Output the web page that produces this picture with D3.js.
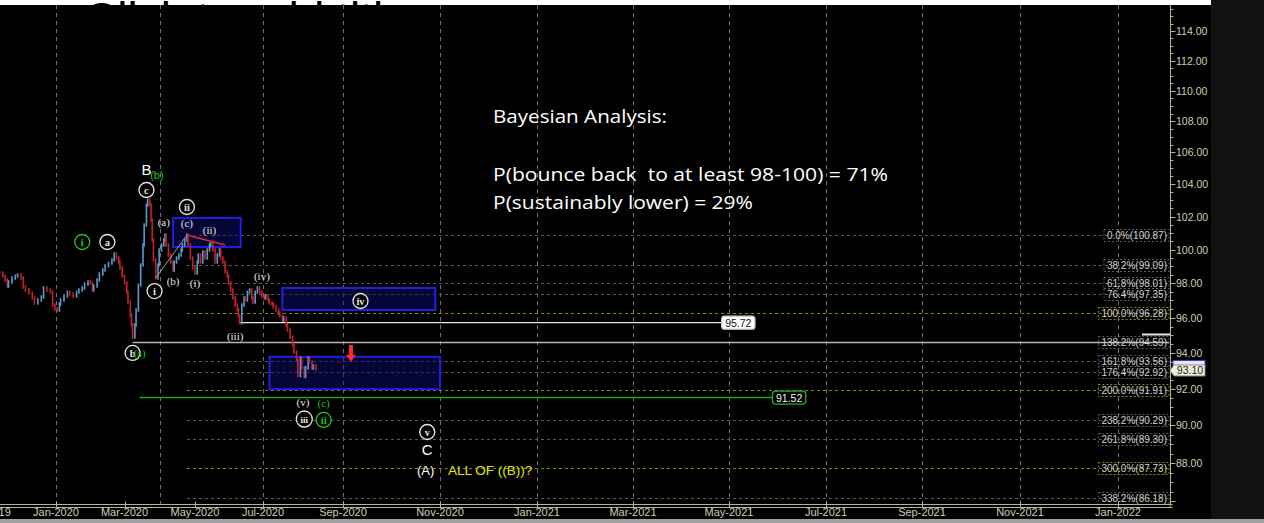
<!DOCTYPE html>
<html><head><meta charset="utf-8">
<script src="https://cdn.jsdelivr.net/npm/d3@7"></script>
<style>
html,body{margin:0;padding:0;background:#000;overflow:hidden}
svg{display:block}
text{white-space:pre}
</style></head><body>
<svg id="c" width="1264" height="523"></svg>
<script>
// ---------------- DATA ----------------
const priceBars = [
["2019-11-12",98.61],["2019-11-15",98.43],["2019-11-17",98.20],["2019-11-19",97.85],["2019-11-20",98.08],
["2019-11-23",98.32],["2019-11-26",98.43],["2019-11-28",98.49],["2019-12-01",98.32],["2019-12-03",97.79],
["2019-12-05",97.61],["2019-12-08",97.43],["2019-12-11",97.14],["2019-12-13",96.85],["2019-12-16",97.03],
["2019-12-19",97.20],["2019-12-21",97.73],["2019-12-24",97.61],["2019-12-27",97.49],["2019-12-29",96.74],
["2019-12-31",96.51],["2020-01-02",96.45],["2020-01-04",96.80],["2020-01-05",97.03],["2020-01-08",97.26],
["2020-01-11",97.49],["2020-01-13",97.38],["2020-01-16",97.26],["2020-01-19",97.49],["2020-01-21",97.61],
["2020-01-24",97.73],["2020-01-26",97.96],["2020-01-29",98.08],["2020-01-31",98.02],["2020-02-02",97.61],
["2020-02-03",97.85],["2020-02-06",98.20],["2020-02-08",98.55],["2020-02-11",98.79],["2020-02-13",99.03],
["2020-02-16",99.20],["2020-02-19",99.38],["2020-02-21",99.74],["2020-02-23",99.50],["2020-02-25",99.26],
["2020-02-26",98.91],["2020-02-28",98.43],["2020-03-01",98.02],["2020-03-03",97.49],["2020-03-04",96.91],
["2020-03-06",96.16],["2020-03-07",95.59],["2020-03-08",94.90],["2020-03-10",95.59],["2020-03-11",96.45],
["2020-03-13",97.90],["2020-03-15",99.09],["2020-03-17",100.28],["2020-03-18",101.49],["2020-03-20",102.71],
["2020-03-21",103.02],["2020-03-23",102.71],["2020-03-24",101.79],["2020-03-25",100.58],["2020-03-26",99.38],
["2020-03-28",98.32],["2020-03-30",99.09],["2020-03-31",99.98],["2020-04-02",100.28],["2020-04-04",100.58],
["2020-04-05",100.88],["2020-04-06",100.28],["2020-04-08",99.68],["2020-04-10",99.26],["2020-04-12",98.79],
["2020-04-13",99.26],["2020-04-15",99.50],["2020-04-17",99.68],["2020-04-19",99.98],["2020-04-20",100.28],
["2020-04-22",100.58],["2020-04-24",100.88],["2020-04-25",100.28],["2020-04-27",99.50],["2020-04-29",98.91],
["2020-05-01",98.61],["2020-05-03",99.26],["2020-05-04",99.68],["2020-05-06",99.26],["2020-05-08",99.86],
["2020-05-10",99.50],["2020-05-12",99.98],["2020-05-14",100.28],["2020-05-15",100.40],["2020-05-17",99.98],
["2020-05-19",99.26],["2020-05-21",99.68],["2020-05-23",99.98],["2020-05-24",99.50],["2020-05-26",99.26],
["2020-05-28",98.67],["2020-05-30",98.43],["2020-05-31",98.02],["2020-06-02",97.61],["2020-06-04",97.14],
["2020-06-06",96.74],["2020-06-08",96.45],["2020-06-09",96.11],["2020-06-10",95.72],["2020-06-12",96.74],
["2020-06-14",97.14],["2020-06-15",97.03],["2020-06-17",97.49],["2020-06-19",97.61],["2020-06-21",97.14],
["2020-06-22",96.91],["2020-06-24",97.49],["2020-06-26",97.73],["2020-06-28",97.49],["2020-06-30",97.26],
["2020-07-02",97.14],["2020-07-03",97.26],["2020-07-05",97.03],["2020-07-06",96.85],["2020-07-08",96.80],
["2020-07-09",96.62],["2020-07-11",96.45],["2020-07-13",96.28],["2020-07-14",96.11],["2020-07-16",95.87],
["2020-07-17",95.99],["2020-07-19",95.59],["2020-07-20",95.30],["2020-07-22",94.90],["2020-07-24",94.45],
["2020-07-25",94.05],["2020-07-27",93.60],["2020-07-28",92.74],["2020-07-30",93.72],["2020-07-31",93.16],
["2020-08-02",92.68],["2020-08-03",93.16],["2020-08-05",93.72],["2020-08-06",93.49],["2020-08-08",93.16],
["2020-08-09",93.27],["2020-08-11",93.10]
];
const lastPrice = 93.10;

const fibPct   = ["0.0%","38.2%","61.8%","76.4%","100.0%","138.2%","161.8%","176.4%","200.0%","238.2%","261.8%","300.0%","338.2%"];
const fibPrice = [100.87, 99.09, 98.01, 97.35, 96.28, 94.59, 93.56, 92.92, 91.91, 90.29, 89.30, 87.73, 86.18];
const fibMajor = [false,false,false,false,true,false,false,false,true,false,false,true,false];
const fibStartDate = "2020-04-24";

const yTickValues = [88,90,92,94,96,98,100,102,104,106,108,110,112,114];
const xTickDates  = ["2019-11-01","2020-01-01","2020-03-01","2020-05-01","2020-07-01","2020-09-01","2020-11-01",
                     "2021-01-01","2021-03-01","2021-05-01","2021-07-01","2021-09-01","2021-11-01","2022-01-01"];
const xTickLabels = ["Nov-2019","Jan-2020","Mar-2020","May-2020","Jul-2020","Sep-2020","Nov-2020",
                     "Jan-2021","Mar-2021","May-2021","Jul-2021","Sep-2021","Nov-2021","Jan-2022"];
const gridDates   = ["2020-01-01","2020-04-01","2020-07-01","2020-09-01","2020-11-01","2021-01-01","2021-03-01",
                     "2021-05-01","2021-07-01","2021-09-01","2021-11-01","2022-01-01"];

// zone boxes: [startDate, endDate, lowPrice, highPrice]
const zoneBoxes = [
  ["2020-04-12","2020-06-11",100.16,101.92],
  ["2020-07-16","2020-10-29",96.45,97.73],
  ["2020-07-06","2020-11-01",91.98,93.78]
];
// level lines: [price, fromDate, toDate, label]
const levelWhite = [95.72, "2020-06-10", "2021-04-28", "95.72"];
const levelGray  = [94.59, "2020-03-08"];
const levelGreen = [91.52, "2020-03-14", "2021-05-30", "91.52"];
// trend lines: [d1,p1,d2,p2]
const trendRed  = ["2020-04-24",100.88,"2020-05-28",100.28];
const trendGray = ["2020-03-28",98.32,"2020-04-24",100.88];
const arrowDown = ["2020-09-06",94.45,93.50];

// wave labels: [text, date, price, color, circled]
const waveLabels = [
  ["i","2020-01-24",100.46,"g",1],["a","2020-02-15",100.46,"w",1],
  ["c","2020-03-20",103.64,"w",1],["ii","2020-04-24",102.59,"w",1],
  ["(a)","2020-04-04",101.67,"w",0],["(c)","2020-04-24",101.61,"w",0],["(ii)","2020-05-14",101.19,"w",0],
  ["i","2020-03-27",97.55,"w",1],["(b)","2020-04-12",98.14,"w",0],["(i)","2020-05-01",98.02,"w",0],
  ["(iv)","2020-06-30",98.43,"w",0],["(iii)","2020-06-06",94.96,"w",0],
  ["b","2020-03-08",94.00,"w",1],["(a)","2020-03-14",94.00,"g",0],
  ["iv","2020-09-12",96.97,"w",1],["(v)","2020-08-01",91.28,"w",0],["(c)","2020-08-17",91.22,"g",0],
  ["iii","2020-08-02",90.35,"w",1],["ii","2020-08-17",90.30,"g",1],["v","2020-10-24",89.65,"w",1]
];
// big labels: [text, date, price, color, size]
const bigLabels = [
  ["B","2020-03-20",104.89,"#ffffff",15],["(b)","2020-03-29",104.60,"#22c422",11],
  ["C","2020-10-24",88.69,"#ffffff",15],["(A)","2020-10-23",87.58,"#ffffff",13]
];
const noteYellow = ["ALL OF ((B))?","2020-11-06",87.58];
const bayesLines = ["Bayesian Analysis:", "", "P(bounce back  to at least 98-100) = 71%", "P(sustainably lower) = 29%"];

// ---------------- CHART ----------------
const W = 1264, H = 523;
const parse = d3.timeParse("%Y-%m-%d");
const svg = d3.select("#c");

const x = d3.scaleTime()
  .domain(xTickDates.map(parse))
  .range([-13,56,124.5,195,263,343,440,537,633,729,826,922,1020,1118]);
const y = d3.scaleLog().domain([114,88]).range([31,463]);

const plotL = 0, plotR = 1170.5, plotT = 5, plotB = 504.5;

svg.append("rect").attr("width",W).attr("height",H).attr("fill","#000");
svg.append("rect").attr("x",1211).attr("y",0).attr("width",W-1211).attr("height",H).attr("fill","#111");
// top white strip with clipped title
svg.append("clipPath").attr("id","topclip").append("rect").attr("x",0).attr("y",0).attr("width",1211).attr("height",5);
svg.append("rect").attr("x",0).attr("y",0).attr("width",1211).attr("height",5).attr("fill","#fff");
svg.append("text").attr("clip-path","url(#topclip)").attr("x",84).attr("y",35)
  .attr("font-family","Liberation Sans, Arial").attr("font-size",46).attr("fill","#000").text("Click to add title");
// bottom grey bar
svg.append("rect").attr("x",0).attr("y",519).attr("width",W).attr("height",4).attr("fill","#a0a0a0");

svg.append("clipPath").attr("id","plotclip").append("rect")
  .attr("x",plotL).attr("y",plotT).attr("width",plotR-plotL).attr("height",plotB-plotT);
const plot = svg.append("g").attr("clip-path","url(#plotclip)");

// vertical grid
plot.selectAll(".vg").data(gridDates).enter().append("line")
  .attr("x1",d=>Math.round(x(parse(d)))+0.5).attr("x2",d=>Math.round(x(parse(d)))+0.5)
  .attr("y1",plotT).attr("y2",plotB)
  .attr("stroke","#707070").attr("stroke-width",1).attr("stroke-dasharray","4,4");

// fib dashed lines
const fibX0 = x(parse(fibStartDate));
const fibBoxRight = 1169;
plot.selectAll(".fl").data(fibPrice).enter().append("line")
  .attr("x1",fibX0).attr("x2",fibBoxRight)
  .attr("y1",d=>Math.round(y(d))+0.5).attr("y2",d=>Math.round(y(d))+0.5)
  .attr("stroke",(d,i)=>fibMajor[i]?"#8c8c00":"#5c5c5c").attr("stroke-width",1).attr("stroke-dasharray","3,3");

// zone boxes
plot.selectAll(".zb").data(zoneBoxes).enter().append("rect")
  .attr("x",d=>x(parse(d[0]))).attr("width",d=>x(parse(d[1]))-x(parse(d[0])))
  .attr("y",d=>y(d[3])).attr("height",d=>y(d[2])-y(d[3]))
  .attr("fill","rgba(10,10,120,0.45)").attr("stroke","#2020e0").attr("stroke-width",2);

// level lines
plot.append("line").attr("x1",x(parse(levelGray[1]))).attr("x2",fibBoxRight)
  .attr("y1",y(levelGray[0])).attr("y2",y(levelGray[0])).attr("stroke","#b4b4b4").attr("stroke-width",1.6);
plot.append("line").attr("x1",x(parse(levelWhite[1]))).attr("x2",x(parse(levelWhite[2])))
  .attr("y1",y(levelWhite[0])).attr("y2",y(levelWhite[0])).attr("stroke","#e8e8e8").attr("stroke-width",1.2);
plot.append("line").attr("x1",x(parse(levelGreen[1]))).attr("x2",x(parse(levelGreen[2])))
  .attr("y1",y(levelGreen[0])).attr("y2",y(levelGreen[0])).attr("stroke","#1aa81a").attr("stroke-width",1.6);

// price bars (open = previous close)
const bars = priceBars.map((d,i)=>{
  const c = d[1], o = i>0 ? priceBars[i-1][1] : d[1];
  return {date:parse(d[0]), o, c, hi:Math.max(o,c)+0.1, lo:Math.min(o,c)-0.1};
});
plot.selectAll(".bar").data(bars).enter().append("line")
  .attr("x1",d=>x(d.date)).attr("x2",d=>x(d.date))
  .attr("y1",d=>y(d.hi)).attr("y2",d=>y(d.lo))
  .attr("stroke",d=>d.c>=d.o?"#5b9bcf":"#c8202a").attr("stroke-width",1.6);

// trend lines
plot.append("line").attr("x1",x(parse(trendGray[0]))).attr("y1",y(trendGray[1]))
  .attr("x2",x(parse(trendGray[2]))).attr("y2",y(trendGray[3])).attr("stroke","#a0a0a0").attr("stroke-width",1);
plot.append("line").attr("x1",x(parse(trendRed[0]))).attr("y1",y(trendRed[1]))
  .attr("x2",x(parse(trendRed[2]))).attr("y2",y(trendRed[3])).attr("stroke","#e02a2a").attr("stroke-width",1.6);

// red arrow
{
  const ax = x(parse(arrowDown[0])), ay0 = y(arrowDown[1]), ay1 = y(arrowDown[2]);
  const headH = 7;
  plot.append("path").attr("fill","#ff2a2a")
    .attr("d",`M${ax-2},${ay0} L${ax+2},${ay0} L${ax+2},${ay1-headH} L${ax+5},${ay1-headH} L${ax},${ay1} L${ax-5},${ay1-headH} L${ax-2},${ay1-headH} Z`);
}

// level labels
function tag(cx, cy, txt, fill, stroke, color){
  const g = svg.append("g");
  const t = g.append("text").attr("x",cx).attr("y",cy).attr("text-anchor","middle").attr("dominant-baseline","central")
    .attr("font-family","Liberation Sans, Arial").attr("font-size",10.5).attr("fill",color).text(txt);
  const w = t.node().getComputedTextLength();
  g.insert("rect","text").attr("x",cx-w/2-3.5).attr("y",cy-6.5).attr("width",w+7).attr("height",13)
    .attr("rx",3).attr("fill",fill).attr("stroke",stroke).attr("stroke-width",1.3);
}
{
  const xw = x(parse(levelWhite[2]));
  tag(xw+14, y(levelWhite[0]), levelWhite[3], "#ffffff", "#cfcfcf", "#111");
  const xg = x(parse(levelGreen[2]));
  tag(xg+14, y(levelGreen[0]), levelGreen[3], "#000", "#22b022", "#f0f0f0");
}

// wave labels
const colG = "#22c422", colW = "#e6e6e6";
waveLabels.forEach(d=>{
  const cx = x(parse(d[1])), cy = y(d[2]);
  const col = d[3]==="g"?colG:colW;
  if (d[4]) {
    const r = d[0].length>=3 ? 8 : 7.5;
    svg.append("circle").attr("cx",cx).attr("cy",cy).attr("r",r).attr("fill","#000")
      .attr("stroke",col).attr("stroke-width",1.3);
    svg.append("text").attr("x",cx).attr("y",cy+0.5).attr("text-anchor","middle").attr("dominant-baseline","central")
      .attr("font-family","Liberation Serif, DejaVu Serif, serif").attr("font-weight","bold")
      .attr("font-size",d[0].length>=3?9:10.5).attr("fill",col).text(d[0]);
  } else {
    svg.append("text").attr("x",cx).attr("y",cy).attr("text-anchor","middle").attr("dominant-baseline","central")
      .attr("font-family","Liberation Serif, DejaVu Serif, serif")
      .attr("font-size",11).attr("fill",col).text(d[0]);
  }
});
bigLabels.forEach(d=>{
  svg.append("text").attr("x",x(parse(d[1]))).attr("y",y(d[2])).attr("text-anchor","middle").attr("dominant-baseline","central")
    .attr("font-family","Liberation Sans, Arial").attr("font-size",d[4]).attr("fill",d[3]).text(d[0]);
});
svg.append("text").attr("x",x(parse(noteYellow[1]))).attr("y",y(noteYellow[2])).attr("dominant-baseline","central")
  .attr("font-family","Liberation Sans, Arial").attr("font-size",13.5).attr("fill","#e6e600").text(noteYellow[0]);

// Bayesian text
const bayesY = [123, 152, 181, 209];
const bayesW = [174, 0, 395, 260];
bayesLines.forEach((t,i)=>{
  if(!t) return;
  svg.append("text").attr("x",493).attr("y",bayesY[i]).attr("font-family","Open Sans, Liberation Sans, Arial")
    .attr("font-size",18).attr("fill","#fff").attr("textLength",bayesW[i]).attr("lengthAdjust","spacingAndGlyphs").text(t);
});

// fib labels (boxes)
fibPrice.forEach((p,i)=>{
  const cy = Math.round(y(p))+0.5;
  const txt = `${fibPct[i]}(${p.toFixed(2)})`;
  const t = svg.append("text").attr("x",1167).attr("y",cy).attr("text-anchor","end").attr("dominant-baseline","central")
    .attr("font-family","Liberation Sans, Arial").attr("font-size",10).attr("fill","#d2d2d2").text(txt);
  const w = t.node().getComputedTextLength();
  svg.insert("rect","text").attr("x",1167-w-3).attr("y",cy-6).attr("width",w+5).attr("height",12)
    .attr("fill","#000").attr("stroke",fibMajor[i]?"#8c8c00":"#5c5c5c").attr("stroke-width",1).attr("stroke-dasharray","2,2");
  t.raise();
});

// right axis
const axisCol = "#b4b496", labCol = "#cfcfb4";
svg.append("line").attr("x1",plotR).attr("x2",plotR).attr("y1",plotT).attr("y2",plotB+2).attr("stroke",axisCol).attr("stroke-width",1);
const minor = d3.range(86, 116.01, 0.5);
svg.selectAll(".mt").data(minor).enter().append("line")
  .attr("x1",plotR).attr("x2",d=>plotR+(d%2===0?5:3))
  .attr("y1",d=>Math.round(y(d))+0.5).attr("y2",d=>Math.round(y(d))+0.5)
  .attr("stroke",axisCol).attr("stroke-width",1)
  .filter(d=>y(d)<plotT||y(d)>plotB).remove();
svg.selectAll(".yl").data(yTickValues).enter().append("text")
  .attr("x",1176).attr("y",d=>y(d)).attr("dominant-baseline","central")
  .attr("font-family","Liberation Sans, Arial").attr("font-size",10.5).attr("fill",labCol).text(d=>d.toFixed(2));

// last price tag + hidden tag above
{
  const cy = y(lastPrice)+1.5;
  svg.append("rect").attr("x",1173).attr("y",cy-10).attr("width",32).attr("height",6)
    .attr("fill","#e4e8ff").attr("stroke","#3a3ae8").attr("stroke-width",1);
  svg.append("path").attr("d",`M1170,${cy} L1174,${cy-5.5} L1205,${cy-5.5} L1205,${cy+5.5} L1174,${cy+5.5} Z`)
    .attr("fill","#f0f0dc").attr("stroke","#8a8a70").attr("stroke-width",1);
  svg.append("text").attr("x",1190).attr("y",cy).attr("text-anchor","middle").attr("dominant-baseline","central")
    .attr("font-family","Liberation Sans, Arial").attr("font-size",10.5).attr("fill","#222").text(lastPrice.toFixed(2));
  const gy = Math.round(y(levelGray[0])) - 7.5;
  svg.append("line").attr("x1",1142).attr("x2",1170).attr("y1",gy).attr("y2",gy)
    .attr("stroke","#e8e8e8").attr("stroke-width",2);
}

// bottom axis
svg.append("line").attr("x1",0).attr("x2",plotR+2).attr("y1",plotB).attr("y2",plotB).attr("stroke",axisCol).attr("stroke-width",1);
svg.append("line").attr("x1",0).attr("x2",plotR+2).attr("y1",plotB+3).attr("y2",plotB+3).attr("stroke",axisCol).attr("stroke-width",1);
svg.selectAll(".xt").data(xTickDates).enter().append("line")
  .attr("x1",d=>Math.round(x(parse(d)))+0.5).attr("x2",d=>Math.round(x(parse(d)))+0.5)
  .attr("y1",plotB-3).attr("y2",plotB+3).attr("stroke",axisCol);
svg.selectAll(".xl").data(xTickDates).enter().append("text")
  .attr("x",d=>x(parse(d))).attr("y",516).attr("text-anchor","middle")
  .attr("font-family","Liberation Sans Narrow, Liberation Sans, Arial").attr("font-size",11).attr("fill",labCol)
  .text((d,i)=>xTickLabels[i]);
</script>
</body></html>
